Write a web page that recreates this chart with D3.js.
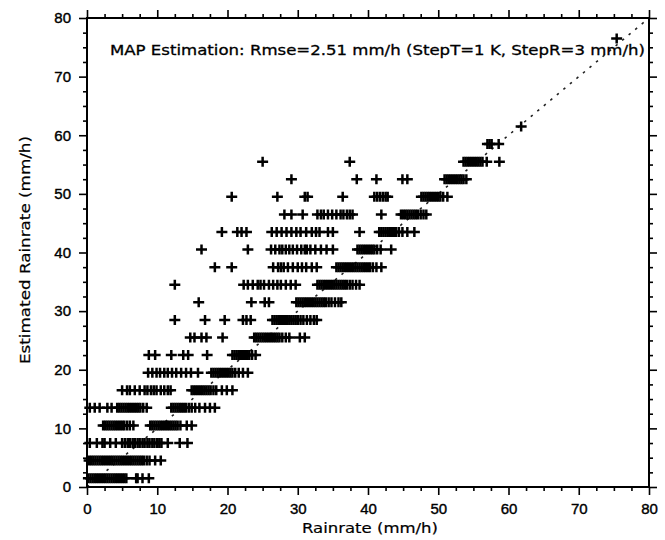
<!DOCTYPE html>
<html>
<head>
<meta charset="utf-8">
<script src="https://cdn.jsdelivr.net/npm/d3@7"></script>
<style>
  body { margin: 0; background: #fff; }
  svg { display: block; }
</style>
</head>
<body>
<svg id="chart"></svg>
<script>
// Estimated rainrate levels (StepR = 3 mm/h) and the true rainrates read off each level
const estLevels = [1.5, 4.5, 7.5, 10.5, 13.5, 16.5, 19.5, 22.5, 25.5, 28.5, 31.5,
                   34.5, 37.5, 40.5, 43.5, 46.5, 49.5, 52.5, 55.5, 58.5, 61.5, 76.5];

const rainByLevel = [
  [0.2,0.5,0.8,1.1,1.4,1.7,2.0,2.3,2.6,2.9,3.2,3.5,3.8,4.1,4.4,4.7,5.0,5.3,5.6,7.0,7.2,7.9,8.8],
  [0.3,0.6,0.9,1.2,1.5,1.8,2.1,2.4,2.7,3.0,3.3,3.6,3.9,4.2,4.5,4.8,5.1,5.4,5.7,6.0,6.3,6.6,6.9,7.2,7.5,7.8,8.1,8.5,8.9,9.7,10.5],
  [0.4,1.4,2.2,2.5,3.3,4.1,5.0,5.4,5.8,6.1,6.5,6.8,7.2,7.5,7.9,8.2,8.6,8.9,9.3,9.6,10.0,10.3,10.6,11.5,13.2,14.3],
  [2.3,2.6,2.9,3.2,3.5,3.8,4.1,4.4,4.7,5.0,5.3,5.7,6.1,6.6,9.0,9.3,9.6,9.9,10.2,10.5,10.8,11.1,11.4,11.7,12.0,12.3,12.6,12.9,13.3,14.2,14.9],
  [0.4,1.1,1.8,2.9,3.5,4.3,4.6,4.9,5.2,5.5,5.8,6.1,6.4,6.7,7.0,7.3,7.6,8.0,8.5,12.0,12.3,12.6,12.9,13.2,13.5,13.8,14.1,14.5,14.9,15.4,16.0,16.8,17.5,18.2],
  [5.0,5.7,6.1,6.8,7.5,8.2,8.6,9.1,9.5,9.9,10.5,11.0,11.5,11.9,14.9,15.2,15.5,15.8,16.1,16.4,16.7,17.0,17.3,17.6,18.0,18.4,19.2,19.9,20.7],
  [8.7,9.3,9.9,10.4,11.0,11.5,12.1,12.7,13.4,14.1,14.8,15.8,17.7,18.0,18.3,18.6,18.9,19.2,19.5,19.8,20.1,20.4,20.7,21.1,21.6,22.2,22.9],
  [8.8,9.7,12.0,13.7,14.4,17.1,20.7,21.0,21.3,21.6,21.9,22.2,22.5,22.8,23.1,23.5,24.0],
  [14.7,15.3,16.3,17.0,19.3,23.8,24.1,24.4,24.7,25.0,25.3,25.6,25.9,26.2,26.5,26.8,27.1,27.4,27.8,28.3,28.8,30.3,31.0],
  [12.5,16.8,19.6,22.2,22.7,23.3,26.4,26.7,27.0,27.3,27.6,27.9,28.2,28.5,28.8,29.1,29.4,29.7,30.0,30.4,30.8,31.3,31.8,32.3,32.7],
  [15.9,23.4,25.3,25.9,29.8,30.1,30.4,30.7,31.0,31.3,31.6,31.9,32.2,32.5,32.8,33.1,33.4,33.7,34.0,34.4,34.8,35.3,35.8,36.2],
  [12.5,22.3,22.9,23.6,24.3,24.7,25.2,25.9,26.5,27.1,27.6,28.3,29.0,29.7,32.8,33.1,33.4,33.7,34.0,34.3,34.6,34.9,35.2,35.5,35.8,36.1,36.4,36.7,37.0,37.4,37.8,38.3,38.8],
  [18.2,20.6,26.5,27.2,27.6,28.0,28.6,29.3,30.0,30.6,31.2,32.0,32.7,35.5,35.8,36.1,36.4,36.7,37.0,37.3,37.6,37.9,38.2,38.5,38.8,39.1,39.4,39.7,40.0,40.3,40.7,41.2,41.9],
  [16.3,22.9,26.2,26.8,27.4,27.8,28.3,28.8,29.3,29.9,30.5,31.0,31.3,31.8,32.5,33.3,34.1,35.0,38.5,38.8,39.1,39.4,39.7,40.0,40.3,40.6,40.9,41.3,41.8,43.3],
  [19.2,21.4,22.0,22.7,26.3,27.0,27.7,28.4,29.1,29.8,30.4,31.2,32.0,32.6,33.1,34.3,35.0,38.8,41.6,41.9,42.2,42.5,42.8,43.1,43.4,43.7,44.0,44.4,44.9,45.6,46.6],
  [28.1,29.1,30.7,32.8,33.3,33.7,34.3,34.9,35.5,36.1,36.5,37.0,37.4,37.8,41.9,44.7,45.0,45.3,45.6,45.9,46.2,46.5,46.8,47.1,47.5,47.9,48.3],
  [20.6,27.1,31.0,31.4,36.4,40.9,41.3,41.7,42.1,42.5,42.8,47.6,47.9,48.2,48.5,48.8,49.1,49.4,49.7,50.0,50.3,50.7,51.3],
  [29.1,38.4,41.2,44.9,45.6,50.9,51.2,51.5,51.8,52.1,52.4,52.7,53.0,53.3,53.6,54.0],
  [25.0,37.4,53.6,53.9,54.2,54.5,54.8,55.1,55.4,55.7,56.0,56.3,56.9,58.7],
  [57.0,57.3,57.6,58.6],
  [61.8],
  [75.4]
];

const majorTicks = [0, 10, 20, 30, 40, 50, 60, 70, 80];
const titleText = "MAP Estimation: Rmse=2.51 mm/h (StepT=1 K, StepR=3 mm/h)";

const svgWidth = 665;
const svgHeight = 540;
const margin = { top: 18, right: 16, bottom: 53, left: 87 };

const svg = d3.select("#chart")
    .attr("width", svgWidth)
    .attr("height", svgHeight)
    .style("font-family", "'DejaVu Sans', sans-serif");

const width = svgWidth - margin.left - margin.right;
const height = svgHeight - margin.top - margin.bottom;

const g = svg.append("g").attr("transform", `translate(${margin.left},${margin.top})`);

const xScale = d3.scaleLinear().domain([0, 80]).range([0, width]);
const yScale = d3.scaleLinear().domain([0, 80]).range([height, 0]);

const minorTicks = d3.range(0, 80.1, 2.5).filter(v => v % 10 !== 0);

// flatten rows into points
const points = [];
estLevels.forEach((lev, i) => {
    rainByLevel[i].forEach(r => points.push({ rain: r, est: lev }));
});

// 1:1 dotted reference line
g.append("line")
    .attr("x1", xScale(0)).attr("y1", yScale(0))
    .attr("x2", xScale(80)).attr("y2", yScale(80))
    .attr("stroke", "#222")
    .attr("stroke-width", 1.6)
    .attr("stroke-dasharray", "2.5,6");

// plus markers
g.selectAll(".pt")
    .data(points)
    .enter().append("path")
    .attr("class", "pt")
    .attr("transform", d => `translate(${xScale(d.rain)},${yScale(d.est)})`)
    .attr("d", "M-5.5,0H5.5M0,-5V5")
    .attr("stroke", "#000")
    .attr("stroke-width", 2.5)
    .attr("fill", "none");

// axes: major + minor on all four sides, ticks pointing outward
function styleAxis(sel) {
    sel.select(".domain").remove();
    sel.selectAll("line").attr("stroke", "#000").attr("stroke-width", 1.6);
    sel.selectAll("text")
        .attr("fill", "#000")
        .attr("stroke", "#000")
        .attr("stroke-width", 0.4)
        .style("font-size", "15px");
}

g.append("g")
    .attr("transform", `translate(0,${height})`)
    .call(d3.axisBottom(xScale).tickValues(majorTicks).tickSize(8).tickPadding(8).tickFormat(d3.format("d")))
    .call(styleAxis);
g.append("g")
    .attr("transform", `translate(0,${height})`)
    .call(d3.axisBottom(xScale).tickValues(minorTicks).tickSize(4).tickFormat(""))
    .call(styleAxis);

g.append("g")
    .call(d3.axisTop(xScale).tickValues(majorTicks).tickSize(8).tickFormat(""))
    .call(styleAxis);
g.append("g")
    .call(d3.axisTop(xScale).tickValues(minorTicks).tickSize(4).tickFormat(""))
    .call(styleAxis);

g.append("g")
    .call(d3.axisLeft(yScale).tickValues(majorTicks).tickSize(8).tickPadding(8).tickFormat(d3.format("d")))
    .call(styleAxis);
g.append("g")
    .call(d3.axisLeft(yScale).tickValues(minorTicks).tickSize(4).tickFormat(""))
    .call(styleAxis);

g.append("g")
    .attr("transform", `translate(${width},0)`)
    .call(d3.axisRight(yScale).tickValues(majorTicks).tickSize(8).tickFormat(""))
    .call(styleAxis);
g.append("g")
    .attr("transform", `translate(${width},0)`)
    .call(d3.axisRight(yScale).tickValues(minorTicks).tickSize(4).tickFormat(""))
    .call(styleAxis);

// frame
g.append("rect")
    .attr("width", width)
    .attr("height", height)
    .attr("fill", "none")
    .attr("stroke", "#000")
    .attr("stroke-width", 2);

// in-plot title
g.append("text")
    .attr("x", 23)
    .attr("y", 37)
    .attr("textLength", 535)
    .attr("lengthAdjust", "spacingAndGlyphs")
    .attr("stroke", "#000")
    .attr("stroke-width", 0.3)
    .style("font-size", "14px")
    .text(titleText);

// axis titles
svg.append("text")
    .attr("x", 370)
    .attr("y", 533)
    .attr("text-anchor", "middle")
    .attr("textLength", 136)
    .attr("lengthAdjust", "spacingAndGlyphs")
    .attr("stroke", "#000")
    .attr("stroke-width", 0.2)
    .style("font-size", "14px")
    .text("Rainrate (mm/h)");

svg.append("text")
    .attr("transform", "rotate(-90)")
    .attr("x", -250)
    .attr("y", 30)
    .attr("text-anchor", "middle")
    .attr("textLength", 228)
    .attr("lengthAdjust", "spacingAndGlyphs")
    .attr("stroke", "#000")
    .attr("stroke-width", 0.2)
    .style("font-size", "14px")
    .text("Estimated Rainrate (mm/h)");
</script>
</body>
</html>
